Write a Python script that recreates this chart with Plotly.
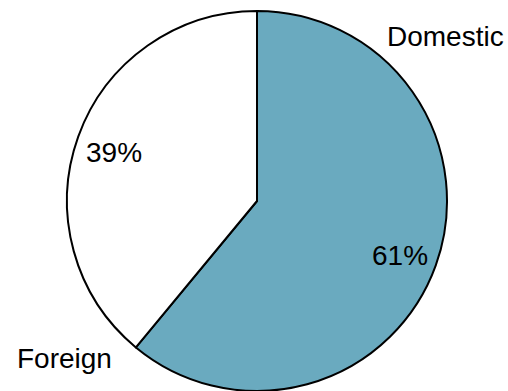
import math
import plotly.graph_objects as go

# Market share split
labels = ["Domestic", "Foreign"]
values = [61, 39]
colors = ["#6aaabf", "#ffffff"]

W, H = 508, 391
cx, cy, r = 257, 201, 190  # pie centre and radius in pixels

FONT = "Liberation Sans Narrow, Arial Narrow, Liberation Sans, Arial, sans-serif"
FSIZE = 28

fig = go.Figure(
    go.Pie(
        labels=labels,
        values=values,
        sort=False,
        direction="clockwise",
        rotation=0,
        marker=dict(colors=colors, line=dict(color="black", width=2)),
        textinfo="none",
        hoverinfo="label+percent",
        showlegend=False,
        domain=dict(x=[(cx - r) / W, (cx + r) / W], y=[(H - cy - r) / H, (H - cy + r) / H]),
    )
)

# percentage labels along each slice's mid-angle
total = sum(values)
start = 0.0
annotations = []
for v in values:
    mid = start + v / total * 360 / 2
    start += v / total * 360
    a = math.radians(mid)
    px = cx + 0.8 * r * math.sin(a)
    py = cy - 0.8 * r * math.cos(a) + 3
    annotations.append(dict(
        x=px / W, y=1 - py / H, xref="paper", yref="paper",
        text=f"{round(v / total * 100)}%", showarrow=False,
        font=dict(family=FONT, size=FSIZE, color="black"),
        xanchor="center", yanchor="middle",
    ))

# category names outside the pie
annotations.append(dict(x=445 / W, y=1 - 37 / H, xref="paper", yref="paper", text=labels[0],
                        showarrow=False, font=dict(family=FONT, size=FSIZE, color="black"),
                        xanchor="center", yanchor="middle"))
annotations.append(dict(x=64 / W, y=1 - 358 / H, xref="paper", yref="paper", text=labels[1],
                        showarrow=False, font=dict(family=FONT, size=FSIZE, color="black"),
                        xanchor="center", yanchor="middle"))

fig.update_layout(
    width=W, height=H,
    margin=dict(l=0, r=0, t=0, b=0),
    paper_bgcolor="white",
    plot_bgcolor="white",
    annotations=annotations,
)

fig.write_html("out.html")
